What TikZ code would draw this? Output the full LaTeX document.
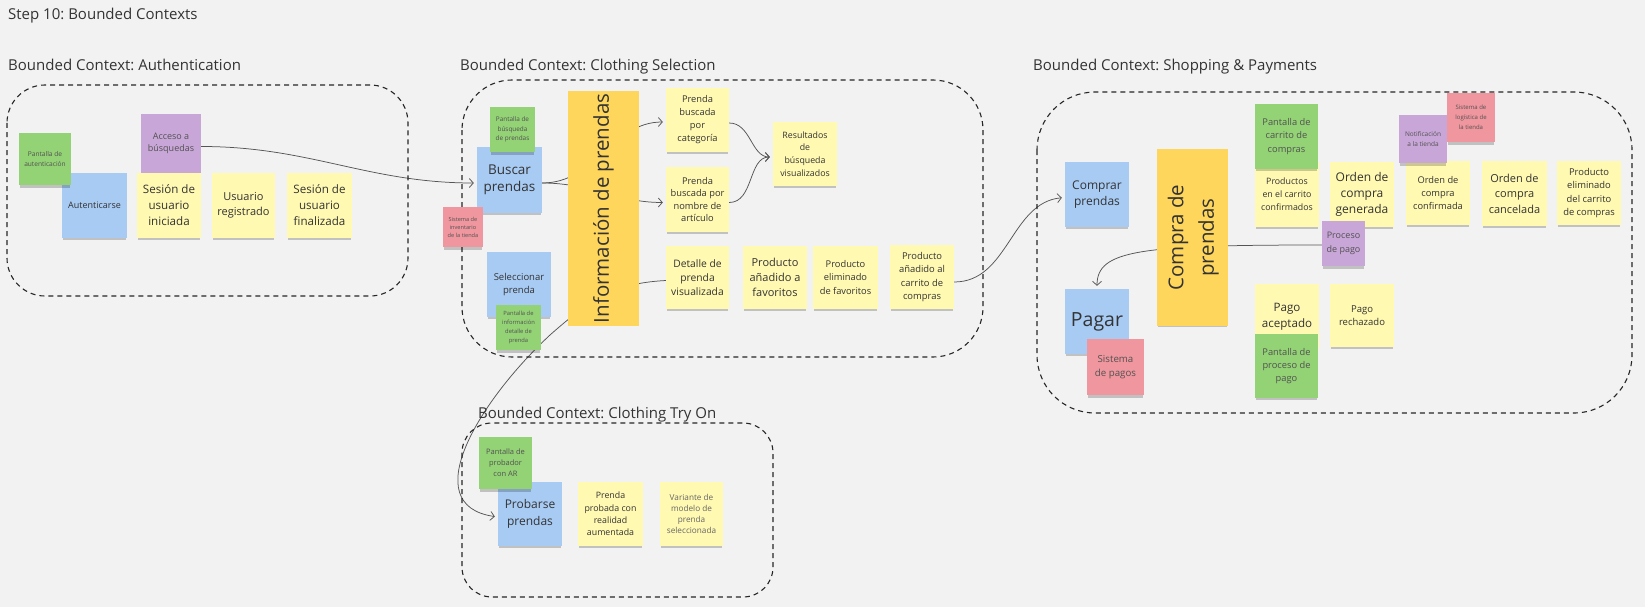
\documentclass[tikz,border=0pt]{standalone}
\usepackage{fontspec}
\setmainfont{Open Sans}
\usetikzlibrary{arrows.meta,shadows,backgrounds}
\frenchspacing

\definecolor{bgGray}{HTML}{F2F2F2}
\definecolor{ink}{HTML}{333333}
\definecolor{wireGray}{HTML}{555555}
\definecolor{noteYellow}{HTML}{FFF9B1}
\definecolor{noteBlue}{HTML}{A8CBF4}
\definecolor{noteGreen}{HTML}{93D275}
\definecolor{notePurple}{HTML}{C9A6D8}
\definecolor{noteRed}{HTML}{F0969E}
\definecolor{noteOrange}{HTML}{FFD65C}

\tikzset{
  note/.style={rectangle, inner sep=0pt, align=center, text=ink,
    minimum width=64pt, minimum height=64pt,
    drop shadow={shadow xshift=0pt, shadow yshift=-3.5pt, shadow scale=0.97, opacity=0.2, fill=black}},
  sz/.style 2 args={minimum width=#1pt, minimum height=#2pt},
  fs/.style 2 args={font=\fontsize{#1}{#2}\selectfont},
  evt/.style={note, fill=noteYellow},
  cmd/.style={note, fill=noteBlue},
  view/.style={note, fill=noteGreen, text=ink!85},
  policy/.style={note, fill=notePurple, text=ink!85},
  extsys/.style={note, fill=noteRed, text=ink!85},
  aggr/.style={note, fill=noteOrange},
  title/.style={anchor=base west, inner sep=0pt, text=ink, font=\fontsize{15}{18}\selectfont},
  ctx/.style={draw=black!85, line width=1.1pt, dash pattern=on 5pt off 4pt},
  wire/.style={draw=wireGray, line width=0.75pt},
  tip/.style={-{Straight Barb[length=4pt, width=9pt, line width=0.75pt]}, shorten >=3pt}
}

\begin{document}
\begin{tikzpicture}[x=1pt, y=-1pt]
\begin{scope}[on background layer]
\fill[bgGray] (0,0) rectangle (1645,607);
\end{scope}
\useasboundingbox (0,0) rectangle (1645,607);

\node[title] (hStep) at (8,19.5) {Step 10: Bounded Contexts};

% bounded contexts
\node[title] (hAuth) at (8,71) {Bounded Context: Authentication};
\draw[ctx, rounded corners=38pt] (7,85) rectangle (408,296);

\node[title] (hSel) at (460,71) {Bounded Context: Clothing Selection};
\draw[ctx, rounded corners=50pt] (462,80) rectangle (983,357);

\node[title] (hTry) at (478,418) {Bounded Context: Clothing Try On};
\draw[ctx, rounded corners=30pt] (462,423) rectangle (773,597);

\node[title] (hShop) at (1033,71) {Bounded Context: Shopping \& Payments};
\draw[ctx, rounded corners=58pt] (1037,92) rectangle (1632,413);

% Authentication
\node[cmd, sz={65}{65}, fs={9}{12}] (autent) at (94.5,205.5) {Autenticarse};
\node[view, sz={52}{52}, fs={6.6}{9.3}] (pAuth) at (45,159) {Pantalla de\\autenticación};
\node[policy, sz={60}{59}, fs={9}{12.7}] (acceso) at (171,143.5) {Acceso a\\búsquedas};
\node[evt, sz={64}{65}, fs={11.6}{16}] (sesIni) at (169,205.5) {Sesión de\\usuario\\iniciada};
\node[evt, sz={63}{65}, fs={11}{15}] (usuReg) at (243.5,205.5) {Usuario\\registrado};
\node[evt, sz={65}{65}, fs={11.6}{16}] (sesFin) at (319.5,205.5) {Sesión de\\usuario\\finalizada};

% Clothing Selection
\node[cmd, sz={65}{66}, fs={13.5}{17.3}] (buscar) at (509.5,180) {Buscar\\prendas};
\node[view, sz={45}{45}, fs={6.4}{9.8}] (pBus) at (512.5,129.5) {Pantalla de\\búsqueda\\de prendas};
\node[extsys, sz={40}{40}, fs={5.6}{8}] (inv) at (463,227) {Sistema de\\inventario\\de la tienda};
\node[cmd, sz={64}{65}, fs={9.5}{13.3}] (selec) at (519,284.5) {Seleccionar\\prenda};
\node[view, sz={45}{45}, fs={5.8}{9}] (pInfo) at (518.5,327.5) {Pantalla de\\información\\detalle de\\prenda};
\node[aggr, sz={71}{235}, fs={20.5}{28}] (info) at (603.5,208.5) {\rotatebox{90}{Información de prendas}};

\node[evt, sz={63}{64}, fs={9.3}{13}] (pCat) at (697.5,120) {Prenda\\buscada\\por\\categoría};
\node[evt, sz={63}{65}, fs={9.3}{12.3}] (pNom) at (697.5,199.5) {Prenda\\buscada por\\nombre de\\artículo};
\node[evt, sz={64}{64}, fs={8.8}{12.7}] (resul) at (805,154) {Resultados\\de\\búsqueda\\visualizados};
\node[evt, sz={63}{63}, fs={10.3}{14}] (detalle) at (697.5,277.5) {Detalle de\\prenda\\visualizada};
\node[evt, sz={64}{63}, fs={11}{14.7}] (favAdd) at (775,277.5) {Producto\\añadido a\\favoritos};
\node[evt, sz={65}{63}, fs={9.3}{13.7}] (favDel) at (845.5,277.5) {Producto\\eliminado\\de favoritos};
\node[evt, sz={64}{64}, fs={9.4}{13.3}] (carAdd) at (922,277) {Producto\\añadido al\\carrito de\\compras};

% Clothing Try On
\node[cmd, sz={64}{64}, fs={12}{16.7}] (probar) at (530,514) {Probarse\\prendas};
\node[view, sz={53}{52}, fs={7.5}{11}] (pAR) at (505.5,463) {Pantalla de\\probador\\con AR};
\node[evt, sz={65}{64}, fs={8.8}{12.4}] (probada) at (610.5,514) {Prenda\\probada con\\realidad\\aumentada};
\node[evt, sz={63}{64}, fs={8.2}{11.2}, text=ink!75] (variante) at (691.5,514) {Variante de\\modelo de\\prenda\\seleccionada};

% Shopping & Payments
\node[cmd, sz={64}{65}, fs={12}{16}] (comprar) at (1097,194.5) {Comprar\\prendas};
\node[aggr, sz={71}{177}, fs={20.5}{30.5}] (compra) at (1192.5,237.5) {\rotatebox{90}{\begin{tabular}{@{}c@{}}Compra de\\prendas\end{tabular}}};
\node[cmd, sz={64}{65}, fs={19.5}{24}] (pagar) at (1097,321.5) {Pagar};
\node[extsys, sz={57}{56}, fs={9.7}{13.3}] (sisPag) at (1115.5,367) {Sistema\\de pagos};

\node[evt, sz={64}{65}, fs={8.8}{13}] (prodConf) at (1287,194.5) {Productos\\en el carrito\\confirmados};
\node[view, sz={63}{65}, fs={9.3}{13.4}] (pCar) at (1286.5,136.5) {Pantalla de\\carrito de\\compras};
\node[evt, sz={64}{65}, fs={12}{15.8}] (ordGen) at (1362,194.5) {Orden de\\compra\\generada};
\node[policy, sz={43}{45}, fs={9}{13.3}] (procPago) at (1343.5,243.5) {Proceso\\de pago};
\node[evt, sz={64}{64}, fs={9.3}{13.3}] (ordConf) at (1438,193) {Orden de\\compra\\confirmada};
\node[policy, sz={48}{48}, fs={6.5}{10}] (notif) at (1423,139) {Notificación\\a la tienda};
\node[extsys, sz={48}{49}, fs={6}{10}] (logis) at (1471,117.5) {Sistema de\\logística de\\la tienda};
\node[evt, sz={65}{65}, fs={11}{15.5}] (ordCanc) at (1514.5,193.5) {Orden de\\compra\\cancelada};
\node[evt, sz={64}{64}, fs={9.4}{13.4}] (prodDel) at (1589,193) {Producto\\eliminado\\del carrito\\de compras};

\node[evt, sz={64}{65}, fs={11.6}{15.8}] (pagoAcep) at (1287,316.5) {Pago\\aceptado};
\node[view, sz={63}{64}, fs={9.3}{13}] (pProc) at (1286.5,366) {Pantalla de\\proceso de\\pago};
\node[evt, sz={64}{63}, fs={9.5}{13.5}] (pagoRech) at (1362,315.5) {Pago\\rechazado};

% connectors, behind the notes
\begin{scope}[on background layer]
\draw[wire, tip] ([yshift=-3pt]acceso.east) to[out=0, in=180] ([yshift=-3pt]buscar.west);
\draw[wire, tip] ([yshift=-3pt]buscar.east) to[out=0, in=180] ([yshift=-2pt]pCat.west);
\draw[wire, tip] ([yshift=-3pt]buscar.east) to[out=0, in=180] ([yshift=-3pt]pNom.west);
\draw[wire, tip] ([yshift=-3pt]pCat.east) to[out=0, in=180] ([yshift=-3pt]resul.west);
\draw[wire, tip] ([yshift=-3pt]pNom.east) to[out=0, in=180] ([yshift=-3pt]resul.west);
\draw[wire, tip] ([yshift=-3pt]detalle.west) .. controls (620,283) and (595,295) .. (550,335)
  .. controls (480,400) and (415,505) .. ([yshift=-3pt]probar.west);
\draw[wire, tip] ([yshift=-5pt]carAdd.east) to[out=0, in=185] ([yshift=-3pt]comprar.west);
\draw[wire, tip] ([yshift=-1.5pt]procPago.west) .. controls (1140,245) and (1097,250) .. (pagar.north);
\end{scope}

\end{tikzpicture}
\end{document}
